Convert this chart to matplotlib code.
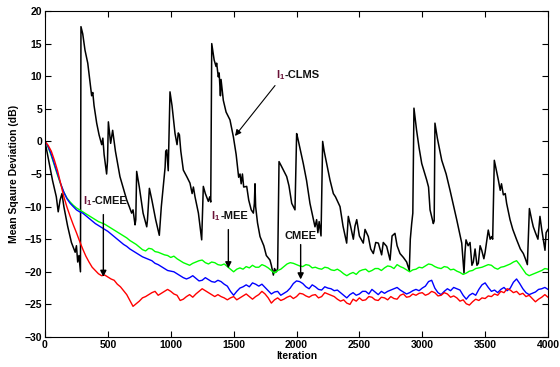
import matplotlib
matplotlib.use("Agg")
import matplotlib.pyplot as plt

plt.rcParams['font.family'] = ['Liberation Sans', 'DejaVu Sans']
plt.rcParams['mathtext.fontset'] = 'custom'
plt.rcParams['mathtext.rm'] = 'Liberation Sans'
plt.rcParams['mathtext.bf'] = 'Liberation Sans:bold'
plt.rcParams['mathtext.it'] = 'Liberation Sans:italic'

# ---------------- data ----------------
iters = list(range(0, 4001, 25))

red_msd = [0, -0.6, -1.5, -2.9, -4.5, -6.5, -8.5, -10.1, -11.5, -12.8,
           -14, -15.3, -16.5, -17.6, -18.5, -19.3, -19.8, -20.3, -20.6, -20.5,
           -20.8, -21.1, -21.3, -21.9, -22.3, -22.9, -23.5, -24.4, -25.3, -24.9,
           -24.5, -24.0, -23.8, -23.5, -23.2, -23.0, -23.6, -23.3, -23.0, -22.7,
           -23.0, -23.4, -23.6, -24.4, -24.2, -23.8, -23.5, -23.9, -23.4, -23.0,
           -22.6, -22.9, -23.2, -23.5, -23.8, -23.5, -23.8, -24.0, -24.3, -24.0,
           -23.8, -24.3, -24.0, -23.7, -23.4, -23.8, -24.2, -23.8, -23.5, -23.0,
           -23.4, -24.0, -24.8, -24.3, -24.0, -24.4, -24.2, -23.9, -23.7, -24.1,
           -23.8, -23.3, -23.4, -23.7, -23.9, -23.6, -23.5, -24.0, -23.8, -23.2,
           -23.4, -23.6, -23.8, -24.2, -24.5, -24.3, -24.8, -25.0, -24.2, -24.5,
           -24.0, -24.4, -24.3, -23.8, -23.9, -24.3, -24.4, -23.9, -24.0, -24.3,
           -23.8, -24.1, -24.2, -23.6, -23.4, -23.9, -23.8, -23.4, -23.6, -23.3,
           -23.2, -23.6, -23.4, -23.0, -23.2, -23.7, -23.6, -23.2, -23.4, -23.9,
           -23.7, -24.0, -24.5, -24.3, -24.9, -25.1, -24.6, -24.2, -24.4, -24.0,
           -24.1, -23.7, -23.8, -23.4, -23.6, -23.0, -23.2, -22.6, -22.8, -23.2,
           -23.0, -23.5, -23.3, -23.8, -23.6, -24.1, -24.6, -24.2, -23.9, -23.5,
           -23.9]

blue_msd = [0, -0.8, -2.0, -3.5, -5.0, -6.5, -7.8, -8.8, -9.5, -10.0,
            -10.5, -10.8, -11.0, -11.4, -11.8, -12.2, -12.6, -12.9, -13.2, -13.5,
            -13.8, -14.2, -14.6, -15.0, -15.4, -15.8, -16.1, -16.5, -16.8, -17.1,
            -17.4, -17.7, -17.9, -18.1, -18.3, -18.7, -18.9, -19.2, -19.5, -19.8,
            -19.9, -20.0, -20.3, -20.6, -20.9, -21.1, -20.9, -20.6, -21.0, -21.4,
            -21.3, -20.9, -21.2, -21.5, -21.6, -21.3, -21.5, -21.9, -22.2, -23.0,
            -23.6, -23.0, -22.5, -22.3, -22.0, -22.3, -21.7, -21.9, -22.2, -21.9,
            -22.4, -22.9, -23.4, -23.1, -23.0, -23.6, -23.3, -23.0, -22.5, -21.8,
            -21.4, -21.5, -21.8, -22.3, -22.6, -22.0, -22.3, -22.7, -22.8, -22.3,
            -22.5, -22.6, -22.9, -22.8, -23.2, -23.6, -24.0, -23.5, -23.2, -23.6,
            -23.4, -23.0, -23.0, -23.4, -22.7, -23.1, -23.5, -23.0, -23.3, -23.0,
            -22.8, -22.6, -22.4, -22.8, -23.1, -23.4, -23.2, -22.9, -22.7, -22.9,
            -22.5, -22.2, -21.5, -21.3, -22.5, -23.2, -23.5, -23.0, -22.6, -22.9,
            -22.4, -22.6, -22.8, -23.6, -24.2, -23.6, -23.3, -23.6, -22.7, -22.0,
            -21.7, -22.4, -23.0, -22.8, -23.2, -22.7, -22.4, -22.9, -22.5, -21.6,
            -21.1, -21.8, -22.6, -23.2, -23.5, -23.3, -23.1, -22.7, -22.6, -22.4,
            -22.7]

green_msd = [0, -0.9, -2.2, -3.7, -5.2, -6.6, -7.8, -8.7, -9.3, -9.8,
             -10.2, -10.5, -10.8, -11.1, -11.4, -11.7, -12.0, -12.3, -12.5, -12.7,
             -13.0, -13.3, -13.6, -13.9, -14.2, -14.5, -14.8, -15.2, -15.5, -15.8,
             -16.2, -16.6, -16.8, -16.4, -16.5, -16.9, -17.0, -17.2, -17.4, -17.5,
             -17.8, -17.6, -18.0, -18.3, -18.6, -18.8, -19.0, -18.7, -18.5, -18.3,
             -18.2, -18.6, -18.8, -18.5, -18.6, -18.9, -19.0, -18.8, -19.2, -19.6,
             -20.0, -19.6, -19.4, -19.6, -19.2, -19.4, -19.0, -19.3, -19.3, -18.9,
             -19.1, -19.4, -19.8, -20.2, -19.8, -19.6, -19.2, -18.8, -18.6, -18.7,
             -18.9, -19.1, -19.2, -18.9, -19.0, -19.4, -19.3, -19.5, -19.6, -19.3,
             -19.4, -19.7, -19.8, -19.6, -19.9, -20.3, -20.6, -20.3, -20.1, -20.4,
             -19.9, -19.7, -19.6, -20.0, -19.8, -19.5, -19.5, -19.8, -19.4, -19.1,
             -19.2, -19.5, -18.9, -19.2, -19.4, -19.7, -20.0, -19.7, -19.6, -19.3,
             -19.4, -19.1, -18.8, -18.9, -19.2, -19.4, -19.5, -19.2, -19.3, -19.7,
             -19.6, -19.9, -20.1, -20.4, -20.2, -19.9, -19.8, -19.5, -19.4, -19.3,
             -19.1, -18.9, -19.0, -19.4, -19.6, -19.3, -19.2, -19.0, -18.8, -18.5,
             -18.3, -18.9, -19.6, -20.3, -20.6, -20.4, -20.2, -20.0, -19.8, -19.5,
             -19.6]

clms_iter = [0, 30, 60, 90, 105, 120, 135, 150, 180, 210, 240, 250, 260, 270, 282,
             286, 300, 318, 340, 371, 380, 390, 411, 430, 451, 460, 470, 490, 497,
             504, 515, 522, 538, 560, 596, 620, 650, 670, 689, 700, 716, 722, 729,
             750, 780, 809, 815, 830, 850, 880, 909, 925, 940, 955, 960, 968, 980,
             994, 1010, 1034, 1050, 1060, 1069, 1080, 1100, 1130, 1153, 1170, 1180,
             1193, 1220, 1246, 1259, 1275, 1299, 1310, 1318, 1326, 1345, 1360, 1365,
             1378, 1385, 1395, 1400, 1418, 1440, 1471, 1498, 1520, 1540, 1551, 1560,
             1570, 1580, 1604, 1620, 1640, 1657, 1665, 1670, 1675, 1690, 1710, 1740,
             1760, 1789, 1800, 1816, 1825, 1840, 1850, 1861, 1880, 1922, 1940, 1962,
             1988, 2001, 2010, 2054, 2080, 2107, 2147, 2160, 2170, 2180, 2195, 2208,
             2220, 2266, 2293, 2310, 2346, 2370, 2399, 2412, 2430, 2452, 2465, 2479,
             2500, 2531, 2545, 2571, 2590, 2611, 2630, 2651, 2677, 2690, 2717, 2744,
             2760, 2783, 2800, 2823, 2850, 2876, 2897, 2905, 2916, 2925, 2934, 2955,
             2975, 2996, 3035, 3050, 3062, 3088, 3095, 3101, 3120, 3155, 3190, 3221,
             3250, 3274, 3314, 3332, 3340, 3348, 3365, 3380, 3395, 3406, 3420, 3435,
             3446, 3460, 3473, 3490, 3500, 3525, 3540, 3552, 3560, 3573, 3605, 3620,
             3630, 3645, 3660, 3671, 3698, 3720, 3751, 3780, 3804, 3820, 3836, 3845,
             3852, 3870, 3883, 3900, 3920, 3936, 3950, 3976, 3985, 4000]

clms_msd = [0, -3, -6, -8.5, -10.8, -9, -8, -10, -13, -15.5, -17, -16, -18.5, -17.5, -20,
            17.6, 16.5, 14, 12, 7, 7.5, 5.5, 2.8, 1, -0.5, 0.5, -2, -5, -3,
            3, 1, -0.3, 1.7, -1.5, -5.4, -7, -9, -10, -11, -10.5, -12.8, -12, -4.6,
            -7, -11, -13.1, -12, -7.2, -9, -12, -14.4, -10, -7, -4, -1.5, -1.3, -4.5,
            7.6, 5.5, 1.2, -0.5, 1.3, 1.0, -1.5, -4.4, -5.5, -6.4, -8, -7,
            -8.5, -11, -15.1, -6.9, -8, -9.2, -8.5, -9.3, 15.0, 12.5, 11.5, 12,
            9.9, 10.5, 7, 9.5, 6.3, 4.5, 3.3, 0.7, -2, -5.5, -5.0, -6.5,
            -5, -7, -6.9, -9, -10.5, -11, -9.5, -6.5, -10, -12.5, -14.6, -16,
            -17.5, -18.2, -19, -20.5, -19.5, -20, -19.5, -3.1, -3.8, -5.4, -6.8, -9.5,
            -10.5, 1.2, 0.5, -3.4, -6, -9.5, -13.1, -12, -14, -12.3, -14.5, 0,
            -1.5, -5.9, -8.0, -8.5, -10, -13, -15.6, -11.5, -13, -15, -13, -12,
            -14.5, -15.6, -13.5, -14.6, -16.5, -17.2, -15.5, -15.6, -17.4, -15.5, -16.1, -18.2,
            -14.5, -14.1, -16, -17.2, -17.8, -18.5, -19.8, -15, -12.6, -11, 5.1, 1.7,
            -1, -3.4, -5.9, -7, -10.5, -12.6, -12.2, 2.8, 0.5, -2.9, -5, -7.5,
            -10, -12, -15.6, -20.2, -17, -15.1, -16, -15.5, -19, -18.5, -16.5, -19,
            -18.7, -16, -16.7, -18, -17, -13.6, -15, -14.6, -15, -2.9, -5.9, -7.5,
            -6.5, -8.2, -8, -9.5, -12, -13.5, -15.1, -16.5, -17.2, -18, -18.9, -14,
            -10.3, -12, -13.1, -14, -15, -11.5, -13.5, -16.7, -14, -13.5]

xticks = [0, 500, 1000, 1500, 2000, 2500, 3000, 3500, 4000]
yticks = [-30, -25, -20, -15, -10, -5, 0, 5, 10, 15, 20]

# ---------------- figure ----------------
fig = plt.figure(figsize=(5.6, 3.67), dpi=100)
ax = fig.add_axes([45/560, 1-337/367, (548-45)/560, (337-11)/367])

ax.plot(clms_iter, clms_msd, color='black', lw=1.1)
ax.plot(iters, green_msd, color='#00ff00', lw=1.0)
ax.plot(iters, blue_msd, color='#0000ff', lw=1.0)
ax.plot(iters, red_msd, color='#ff0000', lw=1.0)

ax.set_xlim(0, 4000)
ax.set_ylim(-30, 20)
ax.set_xticks(xticks)
ax.set_yticks(yticks)
ax.tick_params(direction='in', top=True, right=True, length=4, width=0.8,
               labelsize=7.5, pad=2)
for lab in ax.get_xticklabels() + ax.get_yticklabels():
    lab.set_fontweight('bold')
for s in ax.spines.values():
    s.set_linewidth(0.8)

ax.set_xlabel('Iteration', fontsize=7.5, fontweight='bold', labelpad=1)
ax.set_ylabel('Mean Sqaure Deviation (dB)', fontsize=7.5, fontweight='bold', labelpad=4)

maroon = '#6a1036'


def label(x, y, rest):
    t1 = ax.text(x, y, r'$\mathbf{l}_{\mathbf{1}}$', fontsize=8, color=maroon,
                 ha='left', va='baseline')
    ax.annotate(rest, xy=(1, 0), xycoords=t1, xytext=(0, 1.6),
                textcoords='offset points', fontsize=8, fontweight='bold',
                color='#111111', ha='left', va='bottom')
    return t1


# l1-CLMS
label(1835, 9.7, '-CLMS')
ax.annotate('', xy=(1497, 0.5), xytext=(1843, 8.9),
            arrowprops=dict(arrowstyle='-|>', color='black', lw=0.8, mutation_scale=9))

# l1-CMEE
label(300, -9.6, '-CMEE')
ax.annotate('', xy=(464, -21.2), xytext=(464, -10.8),
            arrowprops=dict(arrowstyle='-|>', color='black', lw=1.0, mutation_scale=9))

# l1-MEE
label(1320, -12.0, '-MEE')
ax.annotate('', xy=(1458, -19.9), xytext=(1458, -13.1),
            arrowprops=dict(arrowstyle='-|>', color='black', lw=1.0, mutation_scale=9))

# CMEE
ax.text(2034, -14.9, 'CMEE', fontsize=8, fontweight='bold', color='#111111',
        ha='center', va='baseline')
ax.annotate('', xy=(2033, -21.6), xytext=(2033, -15.4),
            arrowprops=dict(arrowstyle='-|>', color='black', lw=1.0, mutation_scale=9))

fig.savefig('out.png', dpi=100)
